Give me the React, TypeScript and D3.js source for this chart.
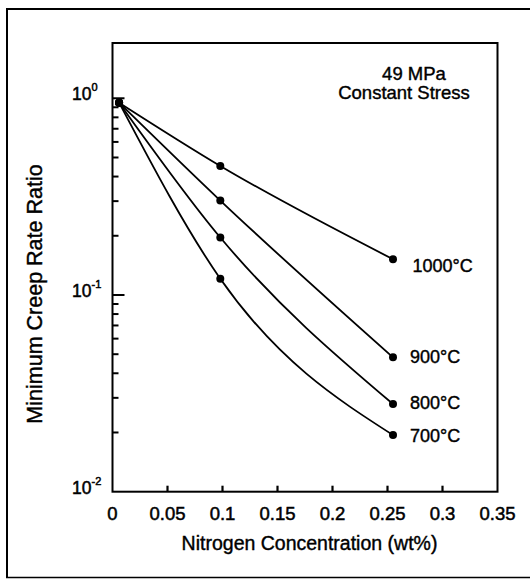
import React, { useRef, useEffect } from "react";
import * as d3 from "d3";

// nitrogen content (wt%) of the three tested heats
const nitrogen = [0.006, 0.098, 0.255];

// minimum creep rate ratio, one array per test temperature
const ratio1000 = [0.95, 0.453, 0.152];
const ratio900 = [0.95, 0.302, 0.0482];
const ratio800 = [0.95, 0.196, 0.0279];
const ratio700 = [0.95, 0.121, 0.0194];

const temperatures = ["1000°C", "900°C", "800°C", "700°C"];
const seriesValues = [ratio1000, ratio900, ratio800, ratio700];

const xTicks = [0, 0.05, 0.1, 0.15, 0.2, 0.25, 0.3, 0.35];
const yMajor = [0.01, 0.1, 1];
const yExponents = ["-2", "-1", "0"];

const App = () => {
  const svgRef = useRef<SVGSVGElement>(null);

  useEffect(() => {
    const width = 530;
    const height = 580;
    const font = "'Liberation Sans', Arial, Helvetica, sans-serif";

    const svg = d3.select(svgRef.current);
    svg.selectAll("*").remove();
    svg.attr("width", width).attr("height", height);

    const x = d3.scaleLinear().domain([0, 0.35]).range([112.5, 497.5]);
    const y = d3
      .scaleLog()
      .domain([0.01, Math.pow(10, 0.281)])
      .range([491.7, 43]);

    const x0 = x(0);
    const yBottom = y(0.01);
    const yTop = y.range()[1];

    // outer frame of the scanned figure (no right edge)
    const frame = svg.append("g").attr("stroke", "#000").attr("fill", "none");
    frame.append("line").attr("x1", 6).attr("y1", 9).attr("x2", width).attr("y2", 9).attr("stroke-width", 2);
    frame.append("line").attr("x1", 7).attr("y1", 8).attr("x2", 7).attr("y2", 578).attr("stroke-width", 2);
    frame.append("line").attr("x1", 6).attr("y1", 577.5).attr("x2", width).attr("y2", 577.5).attr("stroke-width", 1.5);

    // plot box
    svg
      .append("rect")
      .attr("x", x0)
      .attr("y", yTop)
      .attr("width", x(0.35) - x0)
      .attr("height", yBottom - yTop)
      .attr("fill", "none")
      .attr("stroke", "#000")
      .attr("stroke-width", 2);

    // x ticks pointing inward
    svg
      .append("g")
      .selectAll("line")
      .data(xTicks.slice(1, -1))
      .join("line")
      .attr("x1", (d) => x(d))
      .attr("x2", (d) => x(d))
      .attr("y1", yBottom)
      .attr("y2", yBottom - 6)
      .attr("stroke", "#000")
      .attr("stroke-width", 2.2);

    svg
      .append("g")
      .attr("font-family", font)
      .attr("font-size", 18.5)
      .attr("text-anchor", "middle")
      .attr("fill", "#000")
      .attr("stroke", "#000")
      .attr("stroke-width", 0.5)
      .selectAll("text")
      .data(xTicks)
      .join("text")
      .attr("x", (d) => x(d))
      .attr("y", 520)
      .text((d) => String(d));

    // y ticks: minor per decade plus longer decade ticks
    const minor = y.ticks().filter((v) => !yMajor.some((m) => Math.abs(m - v) < 1e-9));
    svg
      .append("g")
      .selectAll("line")
      .data(minor)
      .join("line")
      .attr("x1", x0)
      .attr("x2", x0 + 6)
      .attr("y1", (d) => y(d))
      .attr("y2", (d) => y(d))
      .attr("stroke", "#000")
      .attr("stroke-width", 2);

    svg
      .append("g")
      .selectAll("line")
      .data(yMajor.slice(1))
      .join("line")
      .attr("x1", x0)
      .attr("x2", x0 + 12)
      .attr("y1", (d) => y(d))
      .attr("y2", (d) => y(d))
      .attr("stroke", "#000")
      .attr("stroke-width", 2);

    // power-of-ten labels
    const yLab = svg
      .append("g")
      .attr("font-family", font)
      .attr("fill", "#000")
      .attr("stroke", "#000")
      .attr("stroke-width", 0.5);
    yMajor.forEach((v, i) => {
      const t = yLab
        .append("text")
        .attr("x", 72)
        .attr("y", y(v) + 2)
        .attr("font-size", 17.5)
        .text("10");
      t.append("tspan").attr("dy", -9).attr("font-size", 11).text(yExponents[i]);
    });

    // curves
    const line = d3
      .line<number>()
      .x((_, i) => x(nitrogen[i]))
      .y((d) => y(d))
      .curve(d3.curveMonotoneX);

    const labelDy = [12.7, 6, 4.5, 6.5];
    const labelDx = [19.5, 17, 17, 17];

    seriesValues.forEach((vals, s) => {
      svg
        .append("path")
        .attr("d", line(vals))
        .attr("fill", "none")
        .attr("stroke", "#000")
        .attr("stroke-width", 1.8);

      svg
        .append("g")
        .selectAll("circle")
        .data(vals)
        .join("circle")
        .attr("cx", (_, i) => x(nitrogen[i]))
        .attr("cy", (d) => y(d))
        .attr("r", 4)
        .attr("fill", "#000");

      const last = vals.length - 1;
      svg
        .append("text")
        .attr("x", x(nitrogen[last]) + labelDx[s])
        .attr("y", y(vals[last]) + labelDy[s])
        .attr("font-family", font)
        .attr("font-size", 18)
        .attr("fill", "#000")
        .attr("stroke", "#000")
        .attr("stroke-width", 0.4)
        .text(temperatures[s]);
    });

    // annotation
    const note = svg
      .append("g")
      .attr("font-family", font)
      .attr("font-size", 18.5)
      .attr("text-anchor", "middle")
      .attr("fill", "#000")
      .attr("stroke", "#000")
      .attr("stroke-width", 0.4);
    note.append("text").attr("x", 414).attr("y", 79.5).text("49 MPa");
    note.append("text").attr("x", 404).attr("y", 98.5).text("Constant Stress");

    // axis titles
    svg
      .append("text")
      .attr("x", 309.5)
      .attr("y", 550)
      .attr("text-anchor", "middle")
      .attr("font-family", font)
      .attr("font-size", 19.5)
      .attr("fill", "#000")
      .attr("stroke", "#000")
      .attr("stroke-width", 0.4)
      .text("Nitrogen Concentration (wt%)");

    svg
      .append("text")
      .attr("transform", "translate(42,294) rotate(-90)")
      .attr("text-anchor", "middle")
      .attr("font-family", font)
      .attr("font-size", 21.5)
      .attr("fill", "#000")
      .attr("stroke", "#000")
      .attr("stroke-width", 0.4)
      .text("Minimum Creep Rate Ratio");
  }, []);

  return (
    <svg
      ref={svgRef}
      style={{ position: "absolute", left: 0, top: 0, background: "#fff" }}
    />
  );
};

export default App;
